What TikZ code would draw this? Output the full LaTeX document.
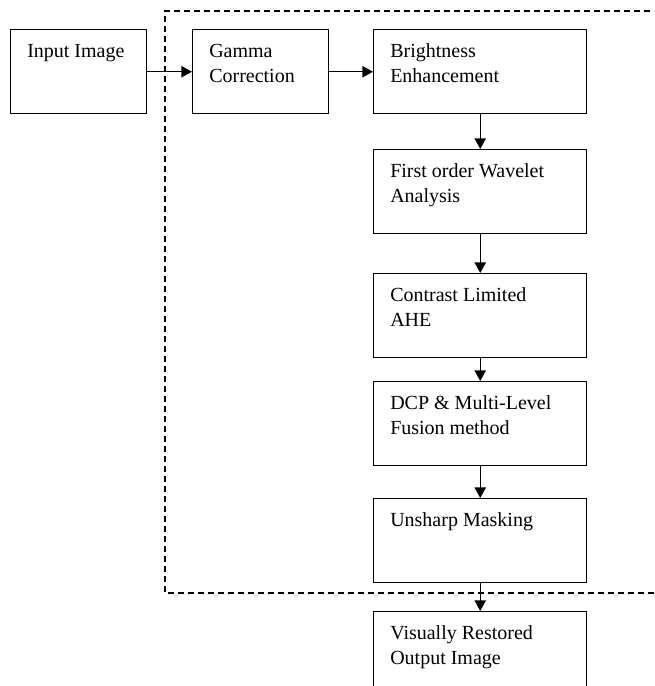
\documentclass[tikz,border=0pt]{standalone}
\usepackage{fontspec}
\setmainfont{Liberation Serif}
\usetikzlibrary{arrows.meta}

\tikzset{
	box/.style = {draw, line width = 1.1pt, minimum height = 63pt, anchor = north west},
	txt/.style = {anchor = north west, align = left, inner xsep = 12.75pt, inner ysep = 11pt,
		font = \fontsize{15pt}{18.75pt}\selectfont},
	flow/.style = {line width = 1.1pt, -{Triangle[length = 8pt, width = 8.5pt]}}
}

\begin{document}
\begin{tikzpicture}[x = 0.75pt, y = -0.75pt]

\useasboundingbox (0,0) rectangle (654, 686);
\clip (0,0) rectangle (654, 686);

\node[box, minimum width = 102pt, label = {[txt]north west:Input Image}] (input) at (10, 29) {};
\node[box, minimum width = 102pt, label = {[txt]north west:Gamma\\Correction}] (gamma) at (192, 29) {};
\node[box, minimum width = 159.75pt, label = {[txt]north west:Brightness\\Enhancement}] (bright) at (373, 29) {};

\foreach \name/\y/\txt in {wavelet/149/{First order Wavelet\\Analysis}, clahe/273/{Contrast Limited\\AHE},
	fusion/381/{DCP \& Multi-Level\\Fusion method}, unsharp/498/{Unsharp Masking},
	output/611/{Visually Restored\\Output Image}} {
	\node[box, minimum width = 159.75pt, label = {[txt]north west:\txt}] (\name) at (373, \y) {};
}

\draw[flow] (input) -- (gamma);
\draw[flow] (gamma) -- (bright);
\draw[flow] (bright) -- (wavelet);
\draw[flow] (wavelet) -- (clahe);
\draw[flow] (clahe) -- (fusion);
\draw[flow] (fusion) -- (unsharp);
\draw[flow] (unsharp) -- (output);

\draw[line width = 0.8pt, dash pattern = on 4.5pt off 3pt] (660, 11) -- (165, 11) -- (165, 593) -- (660, 593);

\end{tikzpicture}
\end{document}
